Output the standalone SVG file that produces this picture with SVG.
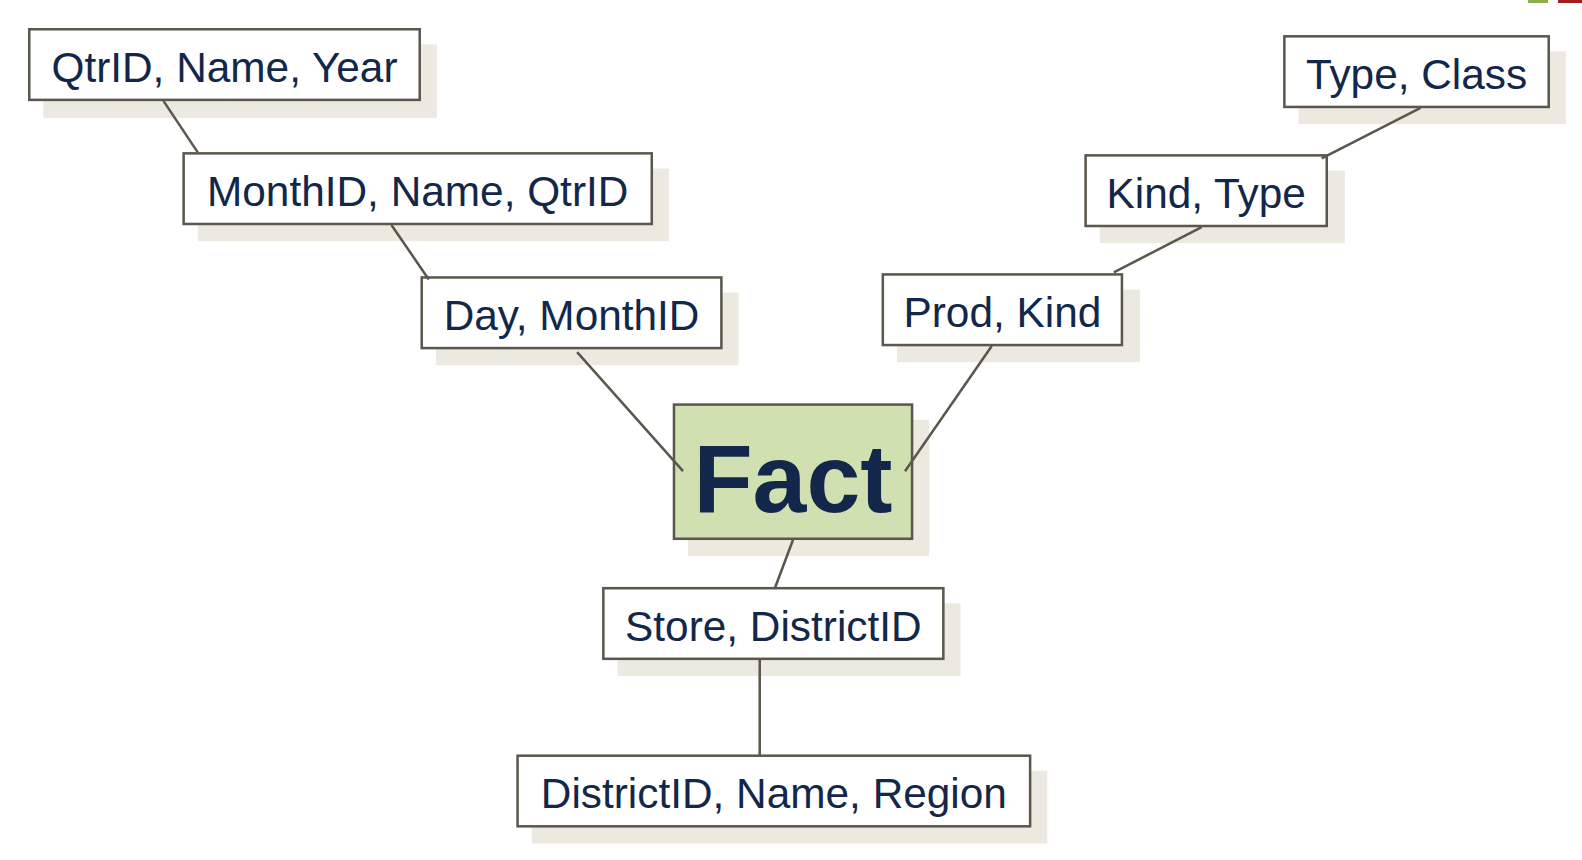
<svg xmlns="http://www.w3.org/2000/svg" width="1582" height="860" viewBox="0 0 1582 860">
<style>
.sh{fill:#ECE9E0}
.bx{fill:#FFFFFF;stroke:#5B574C;stroke-width:2.5}
.fact{fill:#D0E0B0;stroke:#5B574C;stroke-width:2.5}
.t{font-family:"Liberation Sans",Arial,sans-serif;font-size:42px;fill:#13274A;text-anchor:middle}
.tf{font-family:"Liberation Sans",Arial,sans-serif;font-size:96px;font-weight:bold;fill:#13274A;text-anchor:middle}
.c{stroke:#5B574C;stroke-width:2.5;fill:none}
</style>
<rect width="1582" height="860" fill="#FFFFFF"/>
<rect x="1528" y="0" width="20" height="3" fill="#8BB04A"/>
<rect x="1558" y="0" width="24" height="3" fill="#A01E1E"/>
<g transform="scale(1.00893)">
<g id="qtr">
<rect class="sh" x="43" y="44" width="390" height="73"/>
<rect class="bx" x="29" y="29" width="387" height="70"/>
<text class="t" x="222.5" y="81">QtrID, Name, Year</text>
</g>
<g id="month">
<rect class="sh" x="196" y="167" width="467" height="72"/>
<rect class="bx" x="182" y="152" width="464" height="70"/>
<text class="t" x="414" y="204">MonthID, Name, QtrID</text>
</g>
<g id="day">
<rect class="sh" x="432" y="290" width="300" height="72"/>
<rect class="bx" x="418" y="275" width="297" height="70"/>
<text class="t" x="566.5" y="327">Day, MonthID</text>
</g>
<g id="prod">
<rect class="sh" x="889" y="287" width="241" height="72"/>
<rect class="bx" x="875" y="272" width="237" height="70"/>
<text class="t" x="993.5" y="324">Prod, Kind</text>
</g>
<g id="kind">
<rect class="sh" x="1090" y="169" width="243" height="72"/>
<rect class="bx" x="1076" y="154" width="239" height="70"/>
<text class="t" x="1195.5" y="206">Kind, Type</text>
</g>
<g id="type">
<rect class="sh" x="1287" y="51" width="265" height="72"/>
<rect class="bx" x="1273" y="36" width="262" height="70"/>
<text class="t" x="1404" y="88">Type, Class</text>
</g>
<g id="fact">
<rect class="sh" x="682" y="416" width="239" height="135"/>
<rect class="fact" x="668" y="401" width="236" height="133"/>
<text class="tf" x="786" y="507">Fact</text>
</g>
<g id="store">
<rect class="sh" x="612" y="598" width="340" height="72"/>
<rect class="bx" x="598" y="583" width="337" height="70"/>
<text class="t" x="766.5" y="635">Store, DistrictID</text>
</g>
<g id="district">
<rect class="sh" x="527" y="764" width="511" height="72"/>
<rect class="bx" x="513" y="749" width="508" height="70"/>
<text class="t" x="767" y="801">DistrictID, Name, Region</text>
</g>
<g id="connectors">
<line class="c" x1="162" y1="100" x2="196" y2="151"/>
<line class="c" x1="388" y1="223" x2="425" y2="277"/>
<line class="c" x1="572" y1="349" x2="677" y2="467"/>
<line class="c" x1="983" y1="343" x2="897" y2="467"/>
<line class="c" x1="1191" y1="225" x2="1104" y2="270"/>
<line class="c" x1="1408" y1="107" x2="1310" y2="157"/>
<line class="c" x1="786" y1="535" x2="768" y2="583"/>
<line class="c" x1="753" y1="654" x2="753" y2="749"/>
</g>
</g>
</svg>
